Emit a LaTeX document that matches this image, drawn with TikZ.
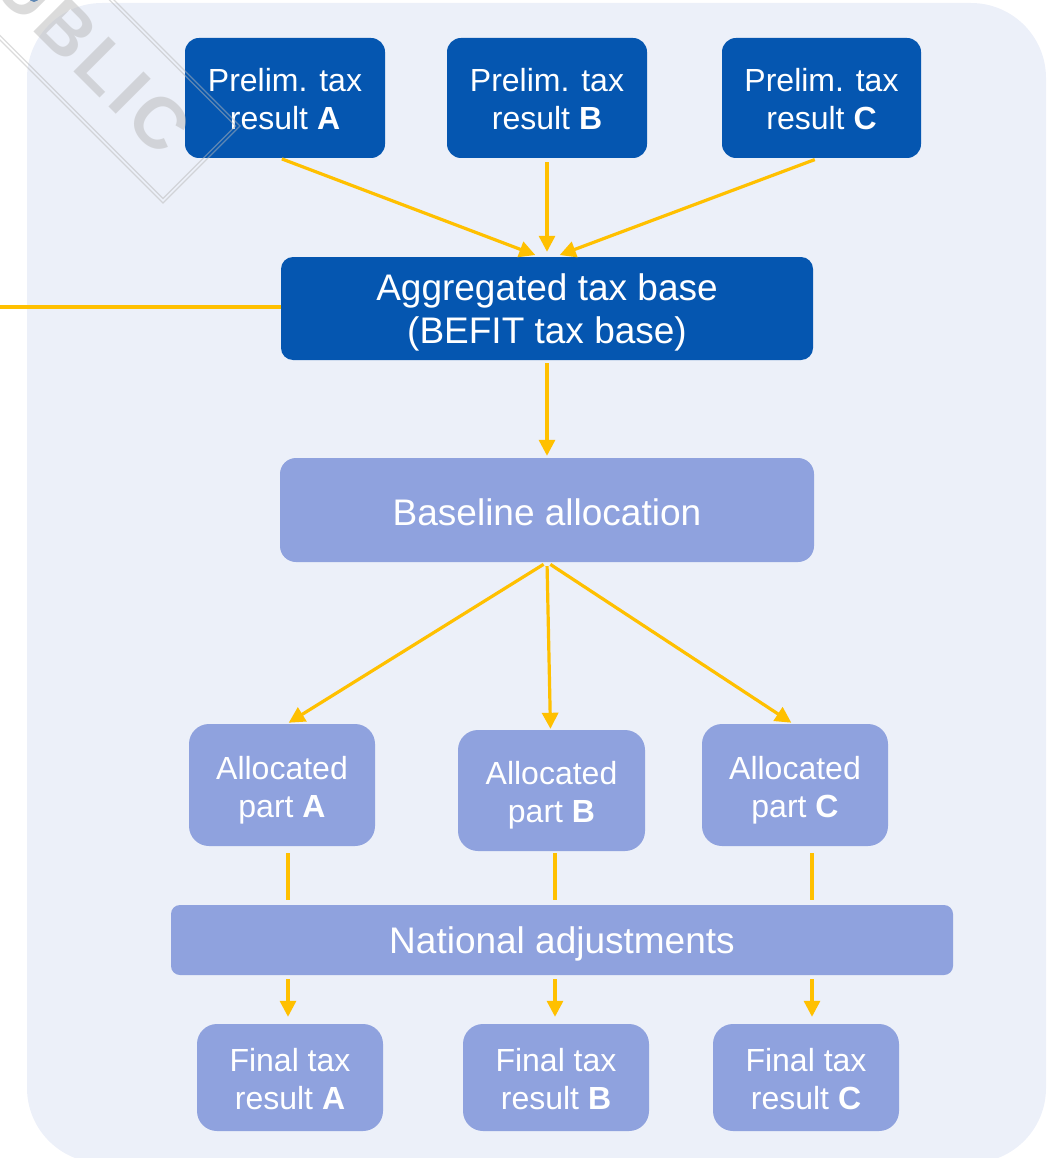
\documentclass[tikz,border=0pt]{standalone}
\usepackage{fontspec}
\setmainfont{Liberation Sans}
\usetikzlibrary{arrows.meta,calc}

\definecolor{panel}{HTML}{ECF0F9}
\definecolor{dblue}{HTML}{0556B0}
\definecolor{lblue}{HTML}{8FA2DE}
\definecolor{gold}{HTML}{FFC000}
\definecolor{stamp}{HTML}{B8B8B8}

\tikzset{
  darkbox/.style={fill=dblue, rounded corners=14pt, inner sep=0pt},
  lightbox/.style={fill=lblue, rounded corners=20pt, inner sep=0pt},
  small/.style={text=white, align=center, inner sep=0pt, font=\fontsize{32}{38}\selectfont},
  large/.style={text=white, align=center, inner sep=0pt, font=\fontsize{37}{43}\selectfont},
  flow/.style={draw=gold, line width=3.2pt},
  arr/.style={flow, -{Triangle[length=16pt,width=16pt]}},
}

\begin{document}
\begin{tikzpicture}[x=1pt,y=-1pt]
\useasboundingbox (0,0) rectangle (1051,1158);
\clip (0,0) rectangle (1051,1158);

% background panel
\fill[panel, rounded corners=75pt] (27,3) rectangle (1046,1163);

% small mark cut off at the top edge
\fill[dblue] (34,-3) ellipse (5pt and 5pt);

% preliminary results
\node[darkbox, minimum width=200pt, minimum height=120pt,
  label={[small, yshift=-1pt]center:{Prelim. tax\\result \textbf{A}}}] (pa) at (285,98) {};
\node[darkbox, minimum width=200pt, minimum height=120pt,
  label={[small, yshift=-1pt]center:{Prelim. tax\\result \textbf{B}}}] (pb) at (547,98) {};
\node[darkbox, minimum width=199pt, minimum height=120pt,
  label={[small, yshift=-1pt]center:{Prelim. tax\\result \textbf{C}}}] (pc) at (821.5,98) {};

% aggregated base and baseline allocation
\node[darkbox, rounded corners=12pt, minimum width=532pt, minimum height=103pt,
  label={[large, yshift=-4pt]center:{Aggregated tax base\\(BEFIT tax base)}}] (agg) at (547,308.5) {};
\node[lightbox, rounded corners=16pt, minimum width=534pt, minimum height=104pt,
  label={[large, yshift=-2pt]center:{Baseline allocation}}] (base) at (547,510) {};

% allocated parts
\node[lightbox, minimum width=186pt, minimum height=122pt,
  label={[small, yshift=-5pt]center:{Allocated\\part \textbf{A}}}] (ala) at (282,785) {};
\node[lightbox, minimum width=187pt, minimum height=121pt,
  label={[small, yshift=-5pt]center:{Allocated\\part \textbf{B}}}] (alb) at (551.5,790.5) {};
\node[lightbox, minimum width=186pt, minimum height=122pt,
  label={[small, yshift=-5pt]center:{Allocated\\part \textbf{C}}}] (alc) at (795,785) {};

% national adjustments
\node[lightbox, rounded corners=9pt, minimum width=782pt, minimum height=70pt,
  label={[large, yshift=-4pt]center:{National adjustments}}] (nat) at (562,940) {};

% final results
\node[lightbox, minimum width=186pt, minimum height=107pt,
  label={[small, yshift=-2pt]center:{Final tax\\result \textbf{A}}}] (fa) at (290,1077.5) {};
\node[lightbox, minimum width=186pt, minimum height=107pt,
  label={[small, yshift=-2pt]center:{Final tax\\result \textbf{B}}}] (fb) at (556,1077.5) {};
\node[lightbox, minimum width=186pt, minimum height=107pt,
  label={[small, yshift=-2pt]center:{Final tax\\result \textbf{C}}}] (fc) at (806,1077.5) {};

% column positions of the vertical links
\coordinate (ka) at (288,0);
\coordinate (kb) at (555,0);
\coordinate (kc) at (812,0);
\coordinate (lft) at (0,307);

% connectors
\draw[arr, shorten <=2pt, shorten >=5pt] ([xshift=-5pt]pa.south) -- ([xshift=-7pt]agg.north);
\draw[arr, shorten <=4pt, shorten >=5pt] (pb.south) -- (agg.north);
\draw[arr, shorten <=4pt, shorten >=5pt] ([xshift=-3pt]pc.south) -- ([xshift=8pt]agg.north);
\draw[flow] (lft) -- (lft -| agg.west);
\draw[arr, shorten <=3pt, shorten >=2pt] (agg.south) -- (base.north);

\draw[arr, shorten <=4pt, shorten >=2pt] (base.south) -- ([xshift=5pt]ala.north);
\draw[arr, shorten <=4pt, shorten >=1pt] (base.south) -- ([xshift=-1pt]alb.north);
\draw[arr, shorten <=4pt, shorten >=2pt] (base.south) -- ([xshift=-2pt]alc.north);

\draw[flow, shorten <=7pt, shorten >=5pt] (ka |- ala.south) -- (ka |- nat.north);
\draw[flow, shorten <=2pt, shorten >=5pt] (kb |- alb.south) -- (kb |- nat.north);
\draw[flow, shorten <=7pt, shorten >=5pt] (kc |- alc.south) -- (kc |- nat.north);

\draw[arr, shorten <=4pt, shorten >=7pt] (ka |- nat.south) -- (ka |- fa.north);
\draw[arr, shorten <=4pt, shorten >=7pt] (kb |- nat.south) -- (kb |- fb.north);
\draw[arr, shorten <=4pt, shorten >=7pt] (kc |- nat.south) -- (kc |- fc.north);

% classification stamp
\begin{scope}[draw=stamp, line width=1.3pt, opacity=0.5]
  \draw (-137,-97) -- (163,203) -- (240,126) -- (-60,-174);
  \draw (-137,-101.5) -- (163,198.5) -- (235.5,126) -- (-64.5,-174);
\end{scope}
\node[text=stamp, opacity=0.5, rotate=-45, anchor=base east, inner sep=0pt,
  font=\fontsize{72}{72}\selectfont\bfseries] (stamptext) at (160,158)
  {P\kern5pt U\kern5pt B\kern5pt L\kern5pt I\kern5pt C};
\end{tikzpicture}
\end{document}
